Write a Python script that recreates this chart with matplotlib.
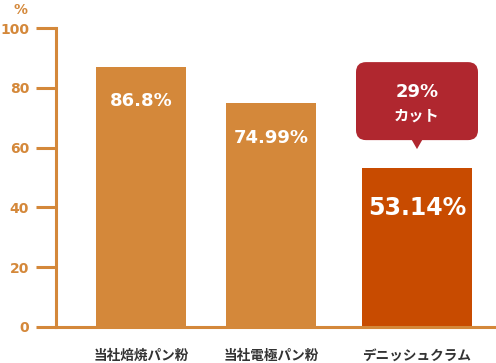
import matplotlib.pyplot as plt
from matplotlib.patches import FancyBboxPatch, Polygon
from matplotlib.transforms import blended_transform_factory
plt.switch_backend('Agg')

categories = ['当社焙焼パン粉', '当社電極パン粉', 'デニッシュクラム']
values = [86.8, 74.99, 53.14]
value_labels = ['86.8%', '74.99%', '53.14%']
y_ticks = [0, 20, 40, 60, 80, 100]
callout_top = '29%'
callout_bottom = 'カット'

ORANGE = '#D4883A'
DARK_ORANGE = '#C84B00'
RED = '#B0272F'
W, H = 496, 363
jp = ['Noto Sans CJK JP', 'DejaVu Sans']

fig = plt.figure(figsize=(W / 100, H / 100), dpi=100)
ax = fig.add_axes([56 / W, (H - 327) / H, (W - 56) / W, (327 - 28) / H])

# x axis in pixel-ish units so bar widths match the picture
xpos = [85, 215, 361]
widths = [90, 90, 110]
colors = [ORANGE, ORANGE, DARK_ORANGE]
bars = ax.bar(xpos, values, width=widths, color=colors, zorder=2)
ax.set_xlim(0, W - 56)
ax.set_ylim(0, 100)

for s in ['top', 'right']:
    ax.spines[s].set_visible(False)
for s in ['left', 'bottom']:
    ax.spines[s].set_color(ORANGE)
    ax.spines[s].set_linewidth(2.2)
    ax.spines[s].set_zorder(3)

ax.set_yticks(y_ticks)
ax.set_yticklabels([str(t) for t in y_ticks], fontsize=10, fontweight='bold',
                   color=ORANGE)
ax.tick_params(axis='y', length=14.4, width=2.2, color=ORANGE, pad=5)
ax.set_xticks(xpos)
ax.set_xticklabels(categories, family=jp, fontsize=9.8, fontweight='bold',
                   color='#333333')
ax.tick_params(axis='x', length=0, pad=15.5)

trans = blended_transform_factory(fig.transFigure, fig.transFigure)
ax.text(21 / W, 1 - 10 / H, '%', transform=trans, ha='center', va='center',
        fontsize=10, fontweight='bold', color=ORANGE)

# value labels inside bars
sizes = [13, 13, 17]
offsets = [-24, -25, -29]
for b, lab, fs, off in zip(bars, value_labels, sizes, offsets):
    ax.annotate(lab, (b.get_x() + b.get_width() / 2, b.get_height()),
                xytext=(0, off), textcoords='offset points', ha='center',
                va='center', color='white', fontsize=fs, fontweight='bold')

# callout bubble above the last bar
ypx = (327 - 28) / 100
b3 = bars[2]
cx = b3.get_x() + b3.get_width() / 2
bw, bh = 122, 78 / ypx
by = values[2] + 28 / ypx
bub = FancyBboxPatch((cx - bw / 2, by), bw, bh,
                     boxstyle='round,pad=0,rounding_size=10',
                     mutation_aspect=1 / ypx, facecolor=RED, edgecolor='none',
                     zorder=4, clip_on=False)
ax.add_patch(bub)
tri = Polygon([(cx - 6, by + 0.5), (cx + 6, by + 0.5), (cx, by - 9 / ypx)],
              closed=True, facecolor=RED, edgecolor='none', zorder=4,
              clip_on=False)
ax.add_patch(tri)
ax.text(cx, by + bh * 0.62, callout_top, ha='center', va='center',
        color='white', fontsize=13, fontweight='bold', zorder=5)
ax.text(cx, by + bh * 0.32, callout_bottom, family=jp, ha='center',
        va='center', color='white', fontsize=11, fontweight='bold', zorder=5)

fig.savefig('out.png', dpi=100)
